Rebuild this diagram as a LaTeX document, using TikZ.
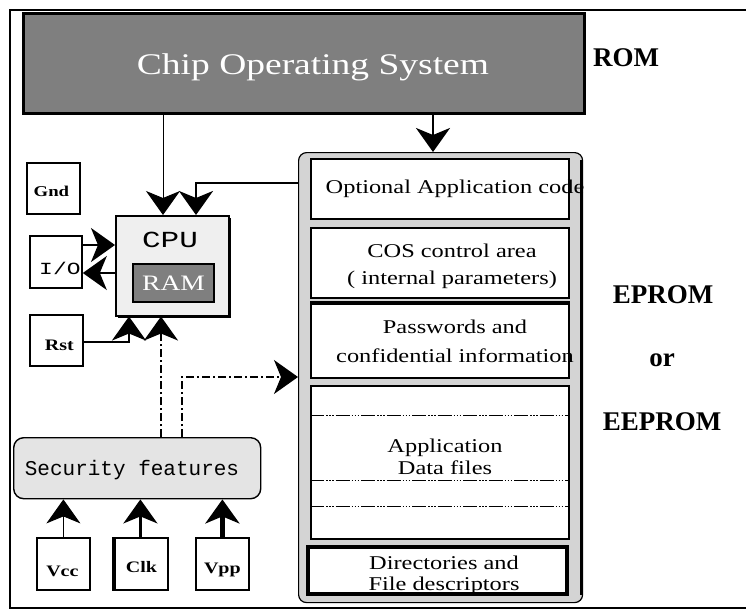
\documentclass[tikz,border=0pt]{standalone}
\usepackage{fontspec}
\setmainfont{Liberation Serif}
\newfontfamily\widef[FakeStretch=1.25]{Liberation Serif}
\newfontfamily\monof{Liberation Mono}
\newfontfamily\widemono[FakeStretch=1.35]{Liberation Mono}
\usetikzlibrary{arrows.meta,calc}
\definecolor{cosgray}{HTML}{7F7F7F}
\definecolor{cpugray}{HTML}{EFEFEF}
\definecolor{memgray}{HTML}{D4D4D4}
\definecolor{secgray}{HTML}{E4E4E4}
\tikzset{
  bigtip/.tip={Stealth[length=24pt,width=34pt,inset=7pt]},
  arr/.style={-bigtip}
}
\begin{document}
\begin{tikzpicture}[x=1pt,y=-1pt,
  rect/.style={draw, line width=1.8pt, fill=white, inner sep=0pt, anchor=north west},
  sect/.style={draw, line width=2pt, fill=white, inner sep=0pt, anchor=north west},
  lbl/.style={inner sep=0pt, align=center},
  dashdot/.style={dash pattern=on 8pt off 3pt on 2pt off 3pt},
  datasep/.style={line width=0.8pt, dash pattern=on 14pt off 2pt on 1.5pt off 1.5pt on 1.5pt off 1.5pt on 1.5pt off 2pt}]
\useasboundingbox (0,0) rectangle (746,615);
\fill[white] (0,0) rectangle (746,615);
% outer frame
\draw[line width=2pt] (746,10) -- (10,10) -- (10,608) -- (746,608);
% Chip Operating System
\node[draw, line width=3pt, fill=cosgray, minimum width=561pt, minimum height=100pt, inner sep=0pt, anchor=north west] (cos) at (22,12) {};
\node[lbl, text=white, font=\widef\fontsize{30}{36}\selectfont] (costext) at (313,67) {Chip Operating System};
\node[lbl, font=\fontsize{27}{30}\selectfont\bfseries] (rom) at (626,58) {ROM};
% memory container
\node[draw, line width=1.2pt, fill=memgray, rounded corners=8pt, minimum width=284pt, minimum height=450pt, inner sep=0pt, anchor=north west] (mem) at (298,152) {};
\draw[line width=2.5pt] (mem.north east) ++(-1.5,8) -- ($(mem.south east)+(-1.5,-8)$);
% sections
\node[sect, minimum width=258pt, minimum height=60pt] (opt) at (310,158) {};
\node[lbl, font=\widef\fontsize{19.5}{22}\selectfont] (opttext) at (455,189) {Optional Application code};
\node[sect, minimum width=258pt, minimum height=70pt] (ctl) at (310,227) {};
\node[lbl, font=\widef\fontsize{19.5}{27}\selectfont] (ctltext) at (452,266) {COS control area\\ ( internal parameters)};
\node[sect, minimum width=258pt, minimum height=74pt] (pwd) at (310,303) {};
\draw[line width=3.5pt] (pwd.north west) -- (pwd.north east);
\node[lbl, font=\widef\fontsize{19.5}{29}\selectfont] (pwdtext) at (455,341) {Passwords and\\ confidential information};
\node[sect, minimum width=258pt, minimum height=153pt] (data) at (310,385) {};
\draw[datasep] (data.west |- 0,415) -- (data.east |- 0,415);
\draw[datasep] (data.west |- 0,480) -- (data.east |- 0,480);
\draw[datasep] (data.west |- 0,506) -- (data.east |- 0,506);
\node[lbl, font=\widef\fontsize{19.5}{22}\selectfont] (datatext) at (445,457) {Application\\ Data files};
\node[sect, line width=2.5pt, minimum width=258pt, minimum height=46pt] (dir) at (307,546) {};
\begin{scope}
\clip (dir.north west) rectangle (dir.south east);
\node[lbl, font=\widef\fontsize{19.5}{21}\selectfont] (dirtext) at (444,575) {Directories and\\ File descriptors};
\end{scope}
\draw[line width=2.5pt] (dir.north west) rectangle (dir.south east);
% EPROM labels
\node[lbl, font=\fontsize{27}{30}\selectfont\bfseries] (eprom) at (663,295) {EPROM};
\node[lbl, font=\fontsize{27}{30}\selectfont\bfseries] (or) at (662,360) {or};
\node[lbl, font=\fontsize{27}{30}\selectfont\bfseries] (eeprom) at (662,422) {EEPROM};
% CPU
\fill[black] (118,218) rectangle (231,318);
\node[draw, line width=1.5pt, fill=cpugray, minimum width=113pt, minimum height=100pt, inner sep=0pt, anchor=north west] (cpu) at (115,215) {};
\node[lbl, font=\widemono\fontsize{23}{24}\selectfont] (cputext) at (170,240) {CPU};
\node[draw, line width=2pt, fill=cosgray, minimum width=81pt, minimum height=38pt, inner sep=0pt, anchor=north west] (ram) at (132,263) {};
\node[lbl, text=white, font=\widef\fontsize{22}{24}\selectfont] (ramtext) at (ram.center) {RAM};
% small boxes
\node[rect, minimum width=53pt, minimum height=51pt] (gnd) at (26,162) {};
\node[lbl, font=\widef\fontsize{15}{16}\selectfont\bfseries] at ($(gnd.center)+(-2,3)$) {Gnd};
\node[rect, minimum width=52pt, minimum height=52pt] (io) at (29,235) {};
\node[lbl, font=\widemono\fontsize{17}{18}\selectfont] at ($(io.center)+(4,7)$) {I/O};
\draw[line width=4pt] (31,316) -- (31,365) -- (82,365);
\node[rect, minimum width=53pt, minimum height=51pt] (rst) at (29,314) {};
\node[lbl, font=\widef\fontsize{16}{17}\selectfont\bfseries] at ($(rst.center)+(3,5)$) {Rst};
% security features
\node[draw, line width=1.4pt, fill=secgray, rounded corners=10pt, minimum width=247pt, minimum height=61pt, inner sep=0pt, anchor=north west] (sec) at (13,437) {};
\node[lbl, font=\monof\fontsize{21}{22}\selectfont] at (132,470) {Security features};
\node[rect, minimum width=53pt, minimum height=52pt] (vcc) at (36,537) {};
\node[lbl, font=\widef\fontsize{16}{17}\selectfont\bfseries] at ($(vcc.center)+(-1,7)$) {Vcc};
\node[rect, minimum width=55pt, minimum height=52pt] (clk) at (112,537) {};
\draw[line width=4pt] (clk.north west) ++(2,0) -- ($(clk.south west)+(2,0)$);
\node[lbl, font=\widef\fontsize{16}{17}\selectfont\bfseries] at ($(clk.center)+(1,3)$) {Clk};
\node[rect, minimum width=53pt, minimum height=52pt] (vpp) at (195,537) {};
\node[lbl, font=\widef\fontsize{16}{17}\selectfont\bfseries] at ($(vpp.center)+(0,6)$) {Vpp};
% connectors
\coordinate (memin) at (433,152);
\draw[arr, line width=2.5pt] (cos.south -| memin) -- (memin);
\coordinate (c1) at (163,215);
\draw[arr, line width=1pt] (cos.south -| c1) -- (c1);
\coordinate (m1) at (298,183);
\coordinate (c2) at (196,215);
\draw[arr, line width=2.5pt] (m1) -| (c2);
\coordinate (a1) at (0,245);
\coordinate (a2) at (0,273);
\draw[arr, line width=2pt] (io.east |- a1) -- (cpu.west |- a1);
\draw[arr, line width=2pt] (cpu.west |- a2) -- (io.east |- a2);
\coordinate (r1) at (129,342);
\draw[arr, line width=2.5pt] (rst.east |- r1) -| (cpu.south -| r1);
\coordinate (s1) at (161,0);
\draw[arr, line width=2.5pt, dashdot] (sec.north -| s1) -- (cpu.south -| s1);
\coordinate (s2) at (182,377);
\draw[arr, line width=1.5pt, dashdot] (sec.north -| s2) -- (s2) -- (mem.west |- s2);
\draw[arr, line width=1pt] (vcc.north) -- (sec.south -| vcc.north);
\draw[arr, line width=2.5pt] (clk.north) -- (sec.south -| clk.north);
\draw[arr, line width=4.5pt] (vpp.north) -- (sec.south -| vpp.north);
\end{tikzpicture}
\end{document}
